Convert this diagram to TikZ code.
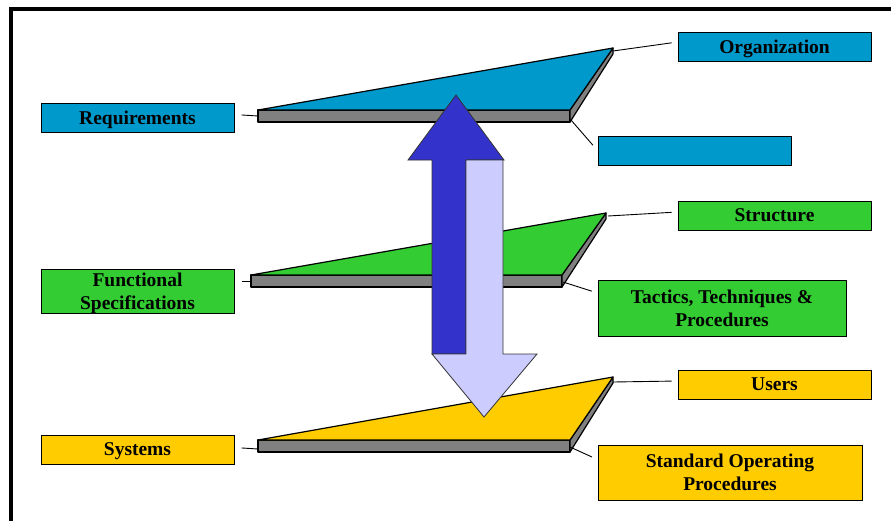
\documentclass[tikz,border=0pt]{standalone}
\usepackage{fontspec}
\setmainfont{Liberation Serif}
\usetikzlibrary{shapes,arrows,positioning}
\definecolor{planeblue}{HTML}{0099CC}
\definecolor{planegreen}{HTML}{33CC33}
\definecolor{planeyellow}{HTML}{FFCC00}
\definecolor{arrowdark}{HTML}{3333CC}
\definecolor{arrowlight}{HTML}{CCCCFF}
\tikzset{
  every node/.style={
    font=\fontsize{19.5}{23}\selectfont\bfseries
  },
  labelbox/.style={
    shape=rectangle,
    draw=black,
    line width=1pt,
    fill=#1,
    minimum width=193pt,
    minimum height=29pt,
    inner sep=0pt,
    text depth=0pt,
    align=center
  },
  planetop/.style={
    fill=#1,
    draw=black,
    line width=1.2pt,
    line join=round
  },
  slab/.style={
    fill=gray,
    draw=black,
    line width=1.2pt,
    line join=round
  },
  leader/.style={
    draw=black,
    line width=0.9pt
  },
  bigarrow/.style={
    fill=#1,
    draw=black!80,
    line width=0.8pt,
    line join=miter
  }
}

\begin{document}
\begin{tikzpicture}[x=1pt,y=-1pt]
    \useasboundingbox (0,0) rectangle (891,520);
    \draw[line width=3.5pt] (11,9) rectangle (930,560);

    % planes
    \filldraw[slab] (258,110) rectangle (570,122);
    \filldraw[slab] (570,110) -- (613,48) -- (613,54) -- (570,122) -- cycle;
    \filldraw[planetop=planeblue] (258,110) -- (613,48) -- (570,110) -- cycle;
    \coordinate (reqL) at (258,116);
    \coordinate (reqB) at (613,51);
    \coordinate (reqF) at (571,120);

    \filldraw[slab] (251,275) rectangle (562,287);
    \filldraw[slab] (562,275) -- (606,213) -- (606,219) -- (562,287) -- cycle;
    \filldraw[planetop=planegreen] (251,275) -- (606,213) -- (562,275) -- cycle;
    \coordinate (funL) at (251,281);
    \coordinate (funB) at (608,216);
    \coordinate (funF) at (563,282);

    \filldraw[slab] (258,440) rectangle (570,452);
    \filldraw[slab] (570,440) -- (613,377) -- (613,383) -- (570,452) -- cycle;
    \filldraw[planetop=planeyellow] (258,440) -- (613,377) -- (570,440) -- cycle;
    \coordinate (sysL) at (258,449);
    \coordinate (sysB) at (613,382);
    \coordinate (sysF) at (570,447);

    % labels
    \node[labelbox=planeblue] (req) at (137.5,117.5) {Requirements};
    \node[labelbox=planeblue] (org) at (774.5,46.5) {Organization};
    \node[labelbox=planeblue] (blank) at (694.5,150.5) {};

    \node[labelbox=planegreen, minimum height=44pt] (fun) at (137.5,291) {Functional\\Specifications};
    \node[labelbox=planegreen] (struc) at (774.5,215.5) {Structure};
    \node[labelbox=planegreen, minimum width=248pt, minimum height=56pt] (ttp) at (722,308) {Tactics, Techniques \&\\Procedures};

    \node[labelbox=planeyellow] (sys) at (137.5,449.5) {Systems};
    \node[labelbox=planeyellow] (users) at (774.5,384.5) {Users};
    \node[labelbox=planeyellow, minimum width=264pt, minimum height=55pt] (sop) at (730,472.5) {Standard Operating\\Procedures};

    % leaders
    \draw[leader, shorten <=7pt] ([yshift=3pt]req.east) -- (reqL);
    \draw[leader, shorten >=6pt] (reqB) -- ([yshift=4.5pt]org.west);
    \draw[leader, shorten >=7pt] (reqF) -- (blank.west);
    \draw[leader, shorten <=7pt] ([yshift=10pt]fun.east) -- (funL);
    \draw[leader, shorten >=6pt] (funB) -- ([yshift=3.5pt]struc.west);
    \draw[leader, shorten >=6pt] (funF) -- ([yshift=15pt]ttp.west);
    \draw[leader, shorten <=7pt] ([yshift=2pt]sys.east) -- (sysL);
    \draw[leader, shorten >=6pt] (sysB) -- ([yshift=3.5pt]users.west);
    \draw[leader, shorten >=6pt] (sysF) -- ([yshift=13pt]sop.west);

    % up and down arrows
    \filldraw[bigarrow=arrowdark] (456,95) -- (504,160) -- (466,160) -- (466,354)
      -- (432,354) -- (432,160) -- (408,160) -- cycle;
    \filldraw[bigarrow=arrowlight] (466,160) -- (503,160) -- (503,354) -- (537,354)
      -- (484,417) -- (432,354) -- (466,354) -- cycle;
\end{tikzpicture}
\end{document}
